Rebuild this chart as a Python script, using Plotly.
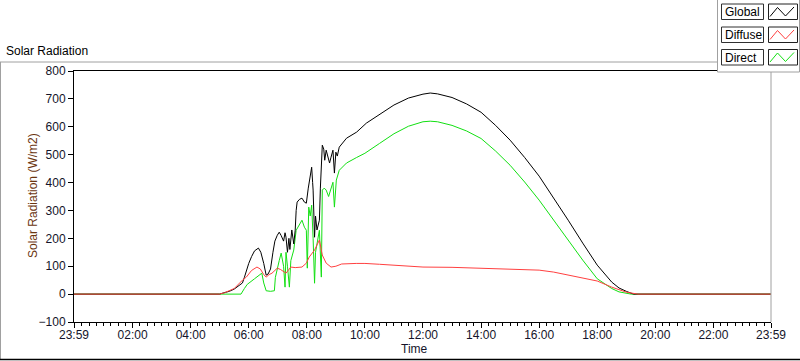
import plotly.graph_objects as go

# ---------------- data ----------------
global_times = ["23:59", "05:00", "05:05", "05:20", "05:30", "05:47", "05:51", "05:55", "06:00", "06:06",
                "06:12", "06:20", "06:25", "06:31", "06:36", "06:40", "06:45", "06:50", "06:54", "06:59",
                "07:03", "07:07", "07:12", "07:15", "07:17", "07:20", "07:23", "07:25", "07:29", "07:33",
                "07:36", "07:38", "07:40", "07:45", "07:50", "07:55", "07:59", "08:03", "08:06", "08:10",
                "08:12", "08:13", "08:16", "08:18", "08:21", "08:26", "08:28", "08:30", "08:32", "08:35",
                "08:37", "08:40", "08:43", "08:47", "08:50", "08:54", "08:57", "09:00", "09:03", "09:07",
                "09:22", "09:43", "10:03", "10:30", "11:00", "11:30", "12:00", "12:15", "12:30", "13:00",
                "13:30", "14:00", "14:30", "15:00", "15:30", "16:00", "16:30", "17:00", "17:30", "18:00",
                "18:30", "18:45", "19:00", "19:15", "23:59"]
global_values = [0, 0, 3, 10, 18, 40, 60, 85, 110, 135,
                 155, 165, 150, 110, 68, 72, 90, 150, 190, 211,
                 222, 210, 190, 220, 204, 150, 200, 160, 230, 180,
                 229, 300, 330, 340, 344, 330, 326, 380, 420, 455,
                 400, 373, 204, 280, 230, 265, 380, 455, 534, 520,
                 480, 516, 500, 470, 491, 516, 434, 509, 495, 527,
                 559, 581, 613, 645, 678, 703, 717, 721, 718, 705,
                 682, 652, 605, 552, 490, 423, 345, 265, 183, 104,
                 43, 22, 10, 0, 0]

direct_times = ["23:59", "05:44", "05:51", "05:57", "06:12", "06:27", "06:31", "06:36", "06:45", "06:53",
                "06:55", "06:59", "07:03", "07:07", "07:12", "07:15", "07:17", "07:20", "07:24", "07:27",
                "07:33", "07:38", "07:45", "07:50", "07:55", "07:59", "08:01", "08:04", "08:07", "08:10",
                "08:13", "08:16", "08:18", "08:21", "08:26", "08:30", "08:32", "08:36", "08:40", "08:45",
                "08:50", "08:54", "08:57", "09:01", "09:07", "09:22", "09:43", "10:00", "10:30", "11:00",
                "11:30", "12:00", "12:15", "12:30", "13:00", "13:30", "14:00", "14:30", "15:00", "15:30",
                "16:00", "16:30", "17:00", "17:30", "18:00", "18:30", "18:45", "19:00", "19:10", "23:59"]
direct_values = [0, 0, 20, 35, 55, 75, 40, 12, 10, 12,
                 60, 97, 120, 147, 100, 25, 150, 100, 25, 120,
                 158, 229, 250, 265, 240, 229, 93, 312, 280, 319,
                 200, 39, 150, 180, 229, 61, 373, 380, 373, 350,
                 384, 401, 312, 409, 444, 470, 490, 505, 540, 575,
                 602, 618, 620, 618, 605, 585, 558, 513, 462, 402,
                 337, 265, 195, 122, 55, 20, 8, 2, 0, 0]

diffuse_times = ["23:59", "05:00", "05:10", "05:30", "05:47", "05:55", "06:06", "06:17", "06:24", "06:31",
                 "06:36", "06:42", "06:48", "06:59", "07:06", "07:12", "07:17", "07:27", "07:36", "07:50",
                 "07:59", "08:05", "08:16", "08:26", "08:32", "08:40", "08:50", "09:00", "09:12", "09:42",
                 "10:00", "10:30", "11:00", "11:30", "12:00", "13:00", "14:00", "14:30", "15:00", "15:30",
                 "16:00", "16:30", "17:00", "17:30", "18:00", "18:30", "19:00", "19:24", "23:59"]
diffuse_values = [0, 0, 5, 20, 50, 61, 85, 97, 90, 70,
                  61, 70, 75, 93, 88, 80, 75, 97, 95, 97,
                  111, 133, 158, 194, 140, 111, 97, 100, 108, 110,
                  110, 107, 104, 100, 97, 96, 93, 92, 90, 88,
                  86, 79, 68, 57, 47, 25, 7, 0, 0]

tick_labels = ["23:59", "02:00", "04:00", "06:00", "08:00", "10:00", "12:00",
               "14:00", "16:00", "18:00", "20:00", "22:00", "23:59"]
y_ticks = [-100, 0, 100, 200, 300, 400, 500, 600, 700, 800]
legend_names = ["Global", "Diffuse", "Direct"]


def to_dt(times):
    out = []
    for i, t in enumerate(times):
        day = "2000-01-01" if i == 0 else "2000-01-02"
        out.append(f"{day} {t}:00")
    return out


tick_vals = to_dt(tick_labels)

COL_GLOBAL = "#000000"
COL_DIFFUSE = "#ff4040"
COL_DIRECT = "#12e012"
FONT = "Liberation Sans"
TXT = "#14142a"

fig = go.Figure()
fig.add_trace(go.Scatter(x=to_dt(direct_times), y=direct_values, mode="lines",
                         line=dict(color=COL_DIRECT, width=1), name="Direct"))
fig.add_trace(go.Scatter(x=to_dt(global_times), y=global_values, mode="lines",
                         line=dict(color=COL_GLOBAL, width=1), name="Global"))
fig.add_trace(go.Scatter(x=to_dt(diffuse_times), y=diffuse_values, mode="lines",
                         line=dict(color=COL_DIFFUSE, width=1), name="Diffuse"))

L, R, T, B = 74, 29, 71, 39
W, H = 800, 361
PW, PH = W - L - R, H - T - B


def px(x):
    return (x - L) / PW


def py(y):
    return (H - B - y) / PH


shapes = []
# outer frame
shapes.append(dict(type="line", xref="paper", yref="paper", x0=px(0), x1=px(717), y0=py(62), y1=py(62),
                   line=dict(color="#a0a0a0", width=1)))
shapes.append(dict(type="line", xref="paper", yref="paper", x0=px(0.5), x1=px(0.5), y0=py(62), y1=py(360),
                   line=dict(color="#a0a0a0", width=1)))
shapes.append(dict(type="line", xref="paper", yref="paper", x0=px(0), x1=px(800), y0=py(359.5), y1=py(359.5),
                   line=dict(color="#000000", width=1.5)))
# right border of plot (grey)
shapes.append(dict(type="line", xref="paper", yref="paper", x0=1, x1=1, y0=0, y1=py(72),
                   line=dict(color="#a0a0a0", width=1)))
# legend panel
shapes.append(dict(type="rect", xref="paper", yref="paper", x0=px(717.5), x1=px(799.5), y0=py(72), y1=py(-2),
                   fillcolor="white", line=dict(color="#a0a0a0", width=1), layer="above"))

annotations = []
row_tops = [4, 27, 49.5]
colors = [COL_GLOBAL, COL_DIFFUSE, COL_DIRECT]
for name, top, col in zip(legend_names, row_tops, colors):
    shapes.append(dict(type="rect", xref="paper", yref="paper", x0=px(721.5), x1=px(763.5),
                       y0=py(top), y1=py(top + 15.5), fillcolor="white",
                       line=dict(color="#303030", width=1), layer="above"))
    shapes.append(dict(type="rect", xref="paper", yref="paper", x0=px(768.5), x1=px(797.5),
                       y0=py(top), y1=py(top + 15.5), fillcolor="white",
                       line=dict(color="#202020", width=1), layer="above"))
    pts = [(770, top + 12.5), (777.5, top + 3.5), (785.5, top + 12), (794, top + 3)]
    path = "M " + " L ".join(f"{px(a):.5f},{py(b):.5f}" for a, b in pts)
    shapes.append(dict(type="path", xref="paper", yref="paper", path=path,
                       line=dict(color=col, width=1), layer="above"))
    annotations.append(dict(xref="paper", yref="paper", x=px(723), y=py(top + 8), text=name,
                            showarrow=False, xanchor="left", yanchor="middle",
                            font=dict(family=FONT, size=12, color="#000000")))

annotations.append(dict(xref="paper", yref="paper", x=px(4), y=py(51), text="Solar Radiation",
                        showarrow=False, xanchor="left", yanchor="middle",
                        font=dict(family=FONT, size=12, color="#000000")))
annotations.append(dict(xref="paper", yref="paper", x=px(33), y=py(196), text="Solar Radiation (W/m2)",
                        showarrow=False, xanchor="center", yanchor="middle", textangle=-90,
                        font=dict(family=FONT, size=12, color="#6b3510")))
annotations.append(dict(xref="paper", yref="paper", x=px(414), y=py(349), text="Time",
                        showarrow=False, xanchor="center", yanchor="middle",
                        font=dict(family=FONT, size=12, color=TXT)))

fig.update_layout(
    width=W, height=H,
    margin=dict(l=L, r=R, t=T, b=B, pad=0),
    paper_bgcolor="white", plot_bgcolor="white",
    showlegend=False,
    shapes=shapes, annotations=annotations,
    font=dict(family=FONT, size=12, color=TXT),
)
fig.update_xaxes(
    type="date",
    range=[tick_vals[0], tick_vals[-1]],
    tickvals=tick_vals, ticktext=tick_labels,
    ticks="outside", ticklen=5, tickcolor="#000000", tickwidth=1,
    ticklabelstandoff=-3,
    minor=dict(ticks="outside", ticklen=3, tickcolor="#000000", dtick=15 * 60 * 1000,
               tick0="2000-01-02 00:00:00", showgrid=False),
    showline=True, linecolor="#000000", linewidth=1, mirror=True,
    showgrid=False, zeroline=False,
    tickfont=dict(family=FONT, size=12, color=TXT),
)
fig.update_yaxes(
    range=[-100, 800],
    tickvals=y_ticks,
    ticks="outside", ticklen=5, tickcolor="#000000", tickwidth=1,
    showline=True, linecolor="#000000", linewidth=1,
    showgrid=False, zeroline=False,
    tickfont=dict(family=FONT, size=12, color=TXT),
)

fig.write_html("out.html", config={"displayModeBar": False},
               post_script="document.body.style.margin='0px';document.body.style.overflow='hidden';")
